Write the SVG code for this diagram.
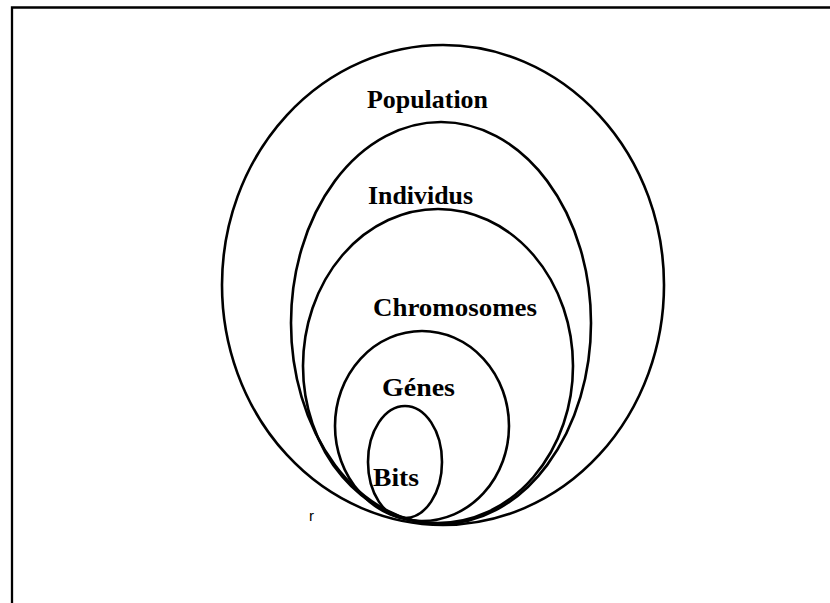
<svg xmlns="http://www.w3.org/2000/svg" width="830" height="603" viewBox="0 0 830 603">
  <style>
    .frame { fill: none; stroke: #000; stroke-width: 2.3; }
    .ring { fill: none; stroke: #000; stroke-width: 2.6; }
    .lbl { font-family: "Liberation Serif", "Times New Roman", serif; font-weight: bold; font-size: 26px; fill: #000; }
    .mark { font-family: "Liberation Sans", Arial, sans-serif; font-size: 15px; fill: #000; }
  </style>
  <rect width="830" height="603" fill="#fff"/>
  <path class="frame" d="M12,603 V7.5 H830"/>

  <g id="population">
    <ellipse class="ring" cx="443" cy="285" rx="221" ry="240"/>
    <text class="lbl" x="367" y="108" textLength="121" lengthAdjust="spacingAndGlyphs">Population</text>
  </g>
  <g id="individus">
    <ellipse class="ring" cx="441" cy="323" rx="150" ry="201"/>
    <text class="lbl" x="368" y="204" textLength="105" lengthAdjust="spacingAndGlyphs">Individus</text>
  </g>
  <g id="chromosomes">
    <ellipse class="ring" cx="438" cy="366" rx="135" ry="157"/>
    <text class="lbl" x="373" y="316" textLength="164" lengthAdjust="spacingAndGlyphs">Chromosomes</text>
  </g>
  <g id="genes">
    <ellipse class="ring" cx="422" cy="426" rx="87" ry="95"/>
    <text class="lbl" x="382" y="396" textLength="73" lengthAdjust="spacingAndGlyphs">Génes</text>
  </g>
  <g id="bits">
    <ellipse class="ring" cx="405" cy="462" rx="37" ry="56"/>
    <text class="lbl" x="373" y="486" textLength="46" lengthAdjust="spacingAndGlyphs">Bits</text>
  </g>

  <g id="connectors"></g>

  <text class="mark" x="309" y="521">r</text>
</svg>
